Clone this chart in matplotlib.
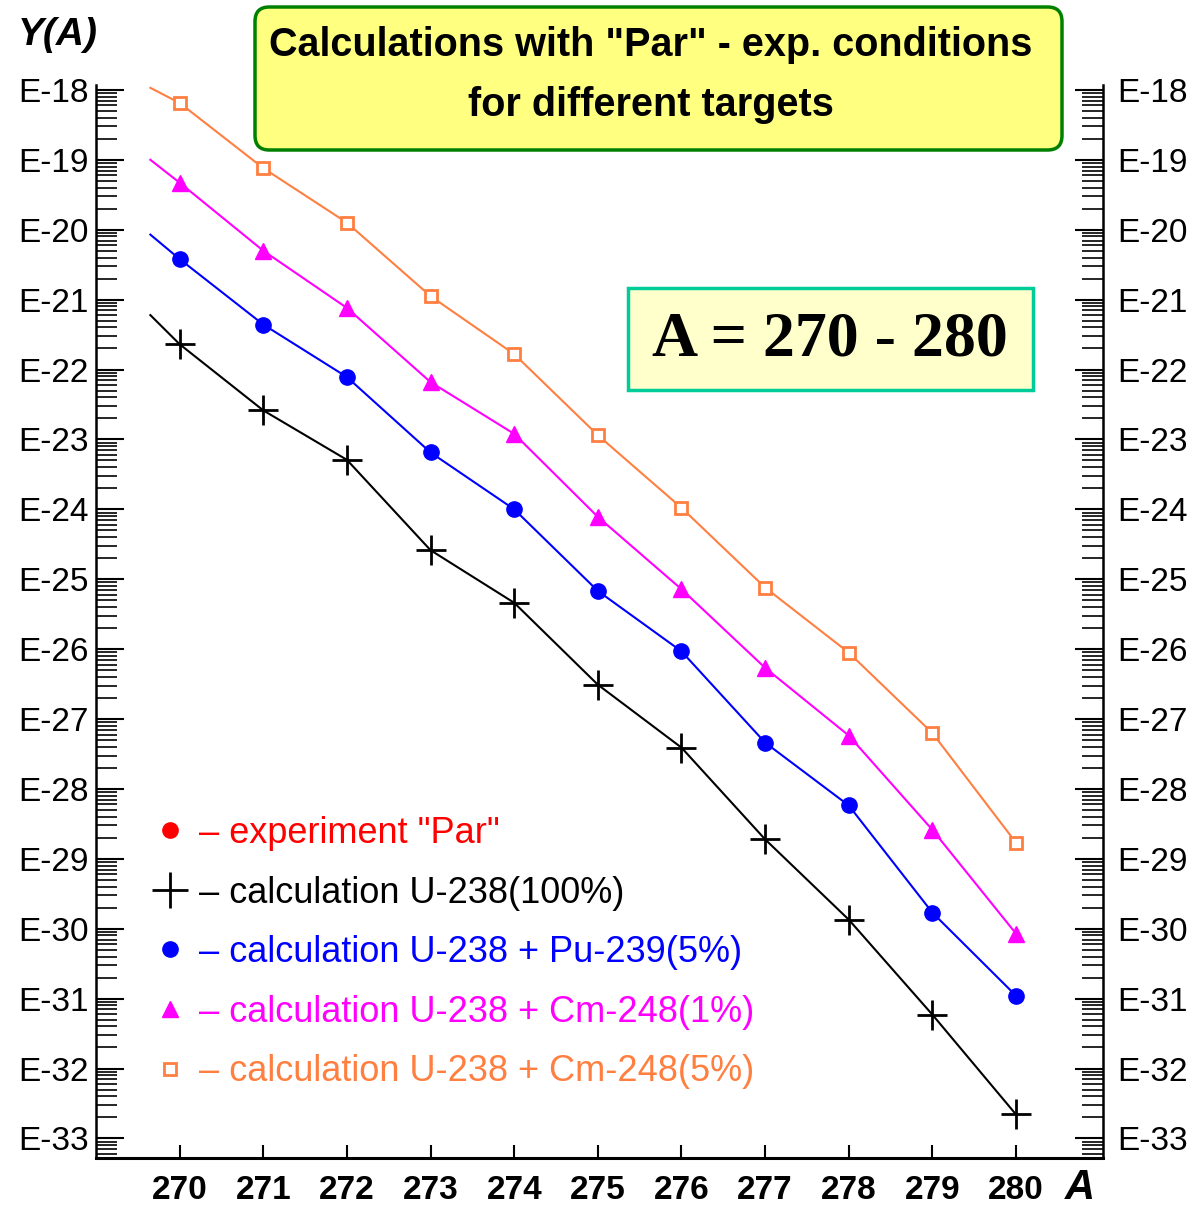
import matplotlib.pyplot as plt
from matplotlib.lines import Line2D
from matplotlib.patches import FancyBboxPatch, Rectangle
from matplotlib.ticker import LogLocator, NullFormatter
import numpy as np

# массовые числа
mass = [270, 271, 272, 273, 274, 275, 276, 277, 278, 279, 280]
mass_start = 269.65  # кривые начинаются чуть левее A = 270

# выходы Y(A) для разных мишеней
y_u238 = [2.3e-22, 2.6e-23, 5.1e-24, 2.6e-25, 4.6e-26, 3.1e-27, 3.9e-28, 1.9e-29, 1.35e-30, 5.9e-32, 2.2e-33]
y_u238_start = 6.0e-22
y_pu239 = [3.8e-21, 4.4e-22, 7.8e-23, 6.5e-24, 1.0e-24, 6.8e-26, 9.3e-27, 4.6e-28, 5.8e-29, 1.7e-30, 1.1e-31]
y_pu239_start = 8.5e-21
y_cm248_1 = [4.7e-20, 5.0e-21, 7.6e-22, 6.6e-23, 1.2e-23, 7.8e-25, 7.2e-26, 5.4e-27, 5.8e-28, 2.6e-29, 8.5e-31]
y_cm248_1_start = 1.0e-19
y_cm248_5 = [6.5e-19, 7.6e-20, 1.26e-20, 1.12e-21, 1.66e-22, 1.15e-23, 1.05e-24, 7.6e-26, 8.9e-27, 6.3e-28, 1.7e-29]
y_cm248_5_start = 1.07e-18

decades = list(range(-33, -17))
y_labels = ["E%d" % d for d in decades]

legend_labels = ['– experiment "Par"',
                 '– calculation U-238(100%)',
                 '– calculation U-238 + Pu-239(5%)',
                 '– calculation U-238 + Cm-248(1%)',
                 '– calculation U-238 + Cm-248(5%)']

orange = '#ff7f40'
sans = ['Liberation Sans', 'DejaVu Sans']

W, H = 1190, 1209
fig = plt.figure(figsize=(W / 100, H / 100), dpi=100)
ax = fig.add_axes([96 / W, 1 - 1158 / H, (1103 - 96) / W, (1158 - 85) / H])

every = list(range(1, len(mass) + 1))
ax.plot([mass_start] + mass, [y_u238_start] + y_u238, color='k', lw=1.5,
        marker='+', ms=22, mew=2, markevery=every)
ax.plot([mass_start] + mass, [y_pu239_start] + y_pu239, color='#0000ff', lw=1.5,
        marker='o', ms=11, markevery=every)
ax.plot([mass_start] + mass, [y_cm248_1_start] + y_cm248_1, color='#ff00ff', lw=1.5,
        marker='^', ms=12, markevery=every)
ax.plot([mass_start] + mass, [y_cm248_5_start] + y_cm248_5, color=orange, lw=1.5,
        marker='s', ms=9, mfc='white', mew=2, markevery=every)

# оси
ax.set_yscale('log')
ylim = (10 ** -33.28, 10 ** -17.93)
ax.set_ylim(ylim)
ax.set_xlim(269.0, 281.04)
ax.set_xticks(mass, labels=[str(m) for m in mass], fontsize=24,
              fontweight='bold', family=sans)
ax.set_yticks([10.0 ** d for d in decades], labels=y_labels)
ax.yaxis.set_minor_locator(LogLocator(base=10, subs=np.arange(2, 10), numticks=200))
ax.yaxis.set_minor_formatter(NullFormatter())
ax.tick_params(axis='y', which='major', direction='in', length=20, width=1.5,
               labelsize=24, labelfontfamily=sans, pad=5)
ax.tick_params(axis='y', which='minor', direction='in', length=15, width=1.2)
ax.tick_params(axis='x', direction='in', length=9.5, width=1.5, pad=12)
ax.spines['top'].set_visible(False)
ax.spines['right'].set_visible(False)
ax.spines['left'].set_linewidth(1.8)
ax.spines['bottom'].set_linewidth(2.2)

# правая шкала - дубль левой
ax2 = ax.twinx()
ax2.set_yscale('log')
ax2.set_ylim(ylim)
ax2.set_yticks([10.0 ** d for d in decades], labels=y_labels)
ax2.yaxis.set_minor_locator(LogLocator(base=10, subs=np.arange(2, 10), numticks=200))
ax2.yaxis.set_minor_formatter(NullFormatter())
ax2.tick_params(axis='y', which='major', direction='in', length=20, width=1.5,
                labelsize=24, labelfontfamily=sans, pad=10)
ax2.tick_params(axis='y', which='minor', direction='in', length=15, width=1.2)
for side in ['left', 'top', 'bottom']:
    ax2.spines[side].set_visible(False)
ax2.spines['right'].set_linewidth(1.8)

# подписи осей
fig.text(18 / W, 1 - 35 / H, 'Y(A)', fontsize=28, fontweight='bold', fontstyle='italic',
         family=sans, va='center', ha='left')
fig.text(1080 / W, 1 - 1188 / H, 'A', fontsize=30, fontweight='bold', fontstyle='italic',
         family=sans, va='center', ha='center')

# легенда
handles = [Line2D([], [], ls='none', marker='o', ms=11, color='#ff0000'),
           Line2D([], [], ls='none', marker='+', ms=26, mew=2, color='k'),
           Line2D([], [], ls='none', marker='o', ms=11, color='#0000ff'),
           Line2D([], [], ls='none', marker='^', ms=12, color='#ff00ff'),
           Line2D([], [], ls='none', marker='s', ms=8, mfc='white', mew=2, color=orange)]
leg = ax.legend(handles, legend_labels, loc='upper left',
                bbox_to_anchor=(148 / W, 1 - 816 / H), bbox_transform=fig.transFigure,
                frameon=False, handlelength=1.2, handletextpad=0.2, borderpad=0,
                borderaxespad=0, labelspacing=0.68,
                labelcolor=['#ff0000', 'k', '#0000ff', '#ff00ff', orange],
                prop={'family': sans, 'size': 26})

# рамка с заголовком
fig.patches.append(FancyBboxPatch((255 / W, 1 - 150 / H), (1062 - 255) / W, (150 - 7) / H,
                                  boxstyle='round,pad=0,rounding_size=0.012',
                                  transform=fig.transFigure, facecolor='#ffff80',
                                  edgecolor='#008000', lw=2.5))
fig.text(651 / W, 1 - 45 / H, 'Calculations with "Par" - exp. conditions', fontsize=28.5,
         fontweight='bold', family=sans, ha='center', va='center')
fig.text(651 / W, 1 - 105 / H, 'for different targets', fontsize=28.5,
         fontweight='bold', family=sans, ha='center', va='center')

# рамка с диапазоном A
fig.patches.append(Rectangle((628 / W, 1 - 390 / H), (1033 - 628) / W, (390 - 288) / H,
                             transform=fig.transFigure, facecolor='#ffffcc',
                             edgecolor='#00cc99', lw=2.5))
fig.text(830 / W, 1 - 340 / H, 'A = 270 - 280', fontsize=46, fontweight='bold',
         family=['Liberation Serif', 'DejaVu Serif'], ha='center', va='center')

plt.savefig('out.png', dpi=100)
